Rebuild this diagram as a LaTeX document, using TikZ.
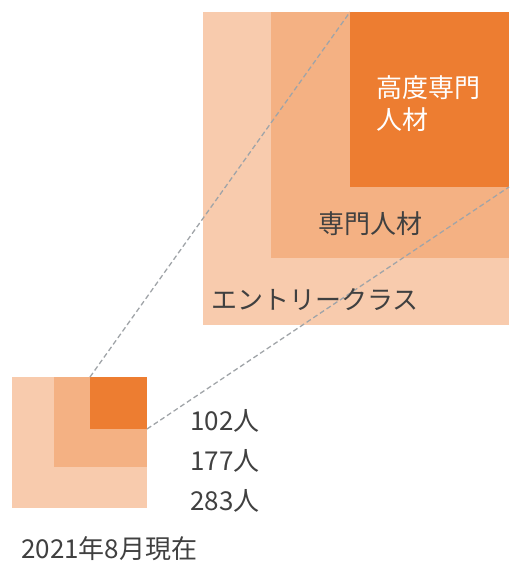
\documentclass[tikz,border=0pt]{standalone}
\usepackage{fontspec}
\setmainfont{Noto Sans CJK JP}
\usepackage{tikz}
\usetikzlibrary{calc}
\definecolor{entry}{HTML}{F8CBAD}
\definecolor{expert}{HTML}{F4B183}
\definecolor{topexpert}{HTML}{ED7D31}
\definecolor{guide}{HTML}{A0A4A8}
\definecolor{ink}{HTML}{404040}
\begin{document}
\begin{tikzpicture}[x=1pt,y=-1pt,
    block/.style={draw=none,inner sep=0pt,outer sep=0pt,anchor=north west},
    lbl/.style={text=ink,font=\fontsize{26}{32}\selectfont,inner sep=0pt},
    guideline/.style={draw=guide,line width=1.3pt,dash pattern=on 5pt off 3pt}]
  \useasboundingbox (0,0) rectangle (509,565);
  % enlarged squares
  \node[block,fill=entry,minimum width=306pt,minimum height=313pt] (bigentry) at (203,12) {};
  \node[block,fill=expert,minimum width=238pt,minimum height=246pt] (bigexpert) at (271,12) {};
  \node[block,fill=topexpert,minimum width=159pt,minimum height=175pt] (bigtop) at (350,12) {};
  % small squares
  \node[block,fill=entry,minimum width=135pt,minimum height=131pt] (smallentry) at (12,377) {};
  \node[block,fill=expert,minimum width=93pt,minimum height=90pt] (smallexpert) at (54,377) {};
  \node[block,fill=topexpert,minimum width=57pt,minimum height=52pt] (smalltop) at (90,377) {};
  \draw[guideline] (smalltop.north west)--(bigtop.north west);
  \draw[guideline] (smalltop.south east)--(bigtop.south east);
  % labels
  \node[lbl,text=white,anchor=west,align=left] (toplbl) at (376,104) {高度専門\\人材};
  \node[lbl] (expertlbl) at (370,224) {専門人材};
  \node[lbl,anchor=west] (entrylbl) at (211,300) {エントリークラス};
  \node[lbl,anchor=west] (n102) at (190,421) {102人};
  \node[lbl,anchor=west] (n177) at (190,461) {177人};
  \node[lbl,anchor=west] (n283) at (190,501) {283人};
  \node[lbl,anchor=west] (date) at (21,549) {2021年8月現在};
\end{tikzpicture}
\end{document}
